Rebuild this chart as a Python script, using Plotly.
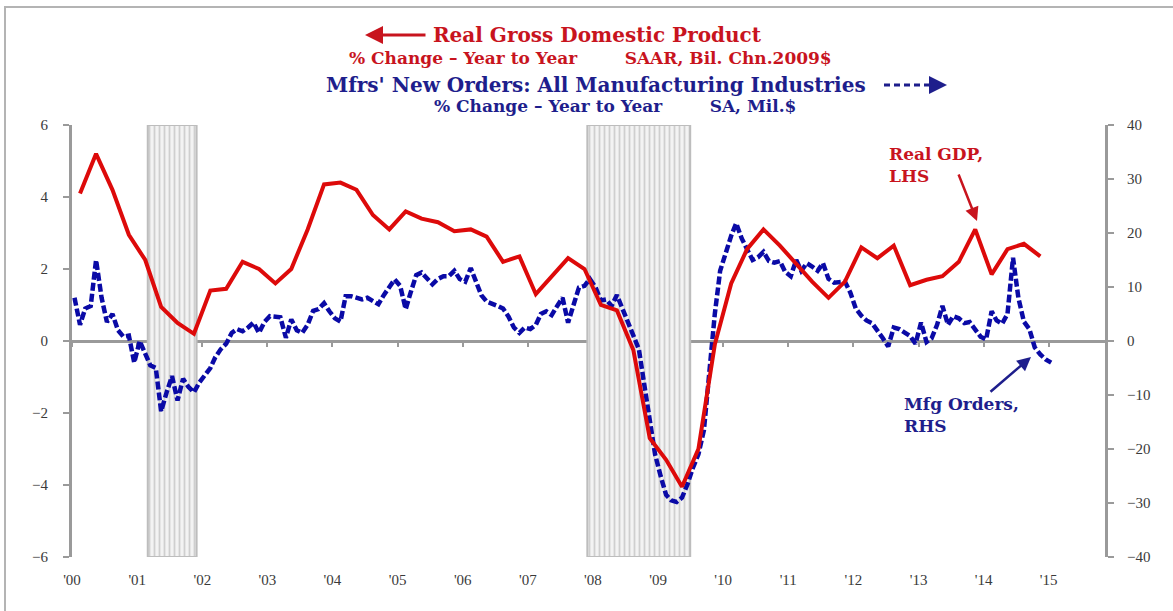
import plotly.graph_objects as go
import pandas as pd

# ---------------- data ----------------
# Real GDP, % change year/year, quarterly 2000Q1..2014Q4 (left axis)
gdp_yoy = [
    4.1, 5.2, 4.2, 2.95,
    2.25, 0.95, 0.5, 0.2,
    1.4, 1.45, 2.2, 2.0,
    1.6, 2.0, 3.1, 4.35,
    4.4, 4.2, 3.5, 3.1,
    3.6, 3.4, 3.3, 3.05,
    3.1, 2.9, 2.2, 2.35,
    1.3, 1.8, 2.3, 2.0,
    1.0, 0.85, -0.25, -2.7,
    -3.3, -4.05, -3.0, -0.1,
    1.6, 2.55, 3.1, 2.65,
    2.15, 1.65, 1.2, 1.65,
    2.6, 2.3, 2.65, 1.55,
    1.7, 1.8, 2.2, 3.1,
    1.85, 2.55, 2.7, 2.35,
]

# Manufacturers' new orders, % change year/year, monthly Jan 2000..Jan 2015 (right axis)
orders_yoy = [
    8, 3, 6, 6.5, 15, 8, 3.5, 5, 2, 0.8, 1, -4,                        # 2000
    0, -2.5, -4.5, -5, -13, -9.5, -6.5, -11, -7, -8.5, -9.5, -7.7,     # 2001
    -6.5, -5, -3, -1.5, -0.5, 1.5, 2.2, 1.8, 2.5, 3.4, 1.5, 3.5,       # 2002
    4.6, 4.6, 4.4, 0.6, 4, 2, 1.5, 3, 5.6, 5.9, 7, 5.5,                # 2003
    4.2, 3.6, 8.3, 8.3, 8, 7.7, 8, 7.5, 6.8, 8.5, 10, 11.4,            # 2004
    10.2, 5.9, 9, 12.2, 12.7, 11.5, 10.5, 11.5, 12, 12, 13, 11.5,      # 2005
    11, 13.5, 11, 8.5, 7.3, 7, 6.5, 6, 4.5, 2.5, 1.5, 2.5,             # 2006
    2.2, 3, 5, 5.5, 4.8, 6.5, 8, 3.4, 7, 9.9, 10.2, 11.5,              # 2007
    10, 7.5, 7.7, 6.5, 8.5, 6, 4, 1.5, -1.5, -8, -14.5, -21,           # 2008
    -25, -28.5, -29.5, -29.8, -29, -26.5, -23.5, -21, -16.5, -6, 5, 13,  # 2009
    16.5, 19.5, 21.8, 19, 17, 15, 15.5, 16.5, 14.8, 14.5, 14.8, 12.8,  # 2010
    12, 15, 13, 14.4, 13.8, 13, 14.4, 11.5, 10.8, 11, 11, 9,           # 2011
    6, 4.7, 3.8, 3.3, 2, 0.5, -1, 2.5, 2.2, 1.5, 0.9, -0.5,            # 2012
    3.4, -0.2, 0.5, 3, 6.5, 3, 4.6, 4.2, 3.3, 3.5, 2.2, 0.8,           # 2013
    0.3, 5.5, 3.8, 3.2, 5, 15.4, 8, 3.6, 2.2, -1.2, -2.5, -3.4,        # 2014
    -4,                                                                # 2015
]

recessions = [("2001-03-01", "2001-11-30"), ("2007-12-01", "2009-06-30")]

year_ticks = [f"{y}-01-01" for y in range(2000, 2016)]
tick_labels = ["'" + str(y)[2:] for y in range(2000, 2016)]

left_ticks = [-6, -4, -2, 0, 2, 4, 6]
right_ticks = [-40, -30, -20, -10, 0, 10, 20, 30, 40]

# ---------------- derived x positions ----------------
gdp_dates = pd.date_range("2000-02-01", periods=len(gdp_yoy), freq="3MS") + pd.Timedelta(days=14)
ord_dates = pd.date_range("2000-01-01", periods=len(orders_yoy), freq="MS") + pd.Timedelta(days=14)

RED = "#DD0A0A"
BLUE = "#0A0AA6"
RED_TXT = "#C8141E"
BLUE_TXT = "#1E1E8C"
AXIS = "#9a9a9a"
TICKFONT = dict(family="Liberation Serif", size=15, color="#3a3a3a")

W, H = 1173, 611
ML, MR, MT, MB = 72, 68, 125, 54
PW, PH = W - ML - MR, H - MT - MB


def px(x):
    return (x - ML) / PW


def py(y):
    return (H - MB - y) / PH


fig = go.Figure()

# recession bars (behind everything, on the right-axis subplot)
for s, e in recessions:
    s_, e_ = pd.Timestamp(s), pd.Timestamp(e)
    fig.add_trace(go.Bar(
        x=[s_ + (e_ - s_) / 2], y=[right_ticks[-1] - right_ticks[0]], base=[right_ticks[0]],
        width=[(e_ - s_).total_seconds() * 1000],
        marker=dict(color="#ececec", line=dict(color="#bdbdbd", width=2),
                    pattern=dict(shape="|", fgcolor="#ababab", bgcolor="#f3f3f3",
                                 size=5, solidity=0.35)),
        xaxis="x", yaxis="y", hoverinfo="skip", showlegend=False,
    ))

# manufacturing orders (right axis)
fig.add_trace(go.Scatter(
    x=ord_dates, y=orders_yoy, mode="lines", xaxis="x", yaxis="y",
    line=dict(color=BLUE, width=4.5, dash="8px,3px"), showlegend=False,
))

# real GDP (left axis) on top
fig.add_trace(go.Scatter(
    x=gdp_dates, y=gdp_yoy, mode="lines", xaxis="x2", yaxis="y2",
    line=dict(color=RED, width=4), showlegend=False,
))

x_range = ["2000-01-01", "2015-11-13"]

fig.update_layout(
    width=W, height=H,
    margin=dict(l=ML, r=MR, t=MT, b=MB),
    paper_bgcolor="white", plot_bgcolor="white",
    showlegend=False, barmode="overlay",
    xaxis=dict(
        type="date", range=x_range, anchor="free", position=0.5,
        showline=True, linecolor=AXIS, linewidth=3, layer="below traces",
        ticks="outside", ticklen=4, tickwidth=2, tickcolor=AXIS,
        tickvals=year_ticks, showticklabels=False,
        showgrid=False, zeroline=False,
    ),
    xaxis2=dict(
        type="date", overlaying="x", matches="x", anchor="y2", side="bottom",
        showline=False, ticks="", tickvals=year_ticks, ticktext=tick_labels,
        tickfont=TICKFONT, ticklabelstandoff=12, showgrid=False, zeroline=False,
    ),
    yaxis=dict(
        side="right", anchor="x", range=[right_ticks[0], right_ticks[-1]],
        tickvals=right_ticks, showline=True, linecolor=AXIS, linewidth=3,
        ticks="outside", ticklen=6, tickwidth=2, tickcolor=AXIS,
        tickfont=TICKFONT, ticklabelstandoff=10, showgrid=False, zeroline=False,
    ),
    yaxis2=dict(
        side="left", overlaying="y", anchor="x2", range=[left_ticks[0], left_ticks[-1]],
        tickvals=left_ticks, showline=True, linecolor=AXIS, linewidth=3,
        ticks="outside", ticklen=6, tickwidth=2, tickcolor=AXIS,
        tickfont=TICKFONT, ticklabelstandoff=12, showgrid=False, zeroline=False,
    ),
)

NB = "\u00a0"
TITLE_FONT = "DejaVu Serif"
ann = [
    dict(text="<b>Real Gross Domestic Product</b>", x=px(597), y=py(35),
         font=dict(family=TITLE_FONT, size=20, color=RED_TXT)),
    dict(text="<b>% Change – Year to Year" + NB * 8 + "SAAR, Bil. Chn.2009$</b>", x=px(590), y=py(58),
         font=dict(family=TITLE_FONT, size=17, color=RED_TXT)),
    dict(text="<b>Mfrs' New Orders: All Manufacturing Industries</b>", x=px(596), y=py(85),
         font=dict(family=TITLE_FONT, size=20, color=BLUE_TXT)),
    dict(text="<b>% Change – Year to Year" + NB * 8 + "SA, Mil.$</b>", x=px(615), y=py(106),
         font=dict(family=TITLE_FONT, size=17, color=BLUE_TXT)),
]
for a in ann:
    fig.add_annotation(xref="paper", yref="paper", showarrow=False,
                       xanchor="center", yanchor="middle", **a)

# title arrows
fig.add_annotation(xref="paper", yref="paper", x=px(365), y=py(35), ax=62, ay=0,
                   text="", showarrow=True, arrowhead=2, arrowsize=1.2, arrowwidth=3,
                   arrowcolor=RED_TXT)
fig.add_shape(type="line", xref="paper", yref="paper", x0=px(884), x1=px(934),
              y0=py(85), y1=py(85), line=dict(color=BLUE_TXT, width=3, dash="6px,4px"))
fig.add_annotation(xref="paper", yref="paper", x=px(947), y=py(85), ax=-12, ay=0,
                   text="", showarrow=True, arrowhead=2, arrowsize=1.2, arrowwidth=3,
                   arrowcolor=BLUE_TXT)

# in-plot labels
fig.add_annotation(xref="paper", yref="paper", x=px(887), y=py(142), xanchor="left",
                   yanchor="top", align="left", showarrow=False,
                   text="<b>Real GDP,<br>LHS</b>", font=dict(family=TITLE_FONT, size=17, color=RED_TXT))
fig.add_annotation(xref="paper", yref="paper", x=px(977), y=py(221), ax=-19, ay=-48,
                   text="", showarrow=True, arrowhead=2, arrowsize=1.1, arrowwidth=2.5,
                   arrowcolor=RED_TXT)
fig.add_annotation(xref="paper", yref="paper", x=px(902), y=py(392), xanchor="left",
                   yanchor="top", align="left", showarrow=False,
                   text="<b>Mfg Orders,<br>RHS</b>", font=dict(family=TITLE_FONT, size=17, color=BLUE_TXT))
fig.add_annotation(xref="paper", yref="paper", x=px(1031), y=py(357), ax=-42, ay=36,
                   text="", showarrow=True, arrowhead=2, arrowsize=1.1, arrowwidth=2.5,
                   arrowcolor=BLUE_TXT)

# outer frame
fig.add_shape(type="rect", xref="paper", yref="paper", x0=px(5), x1=px(1200),
              y0=py(640), y1=py(7), line=dict(color="#b4b4b4", width=2), layer="below")

fig.write_html("out.html")
